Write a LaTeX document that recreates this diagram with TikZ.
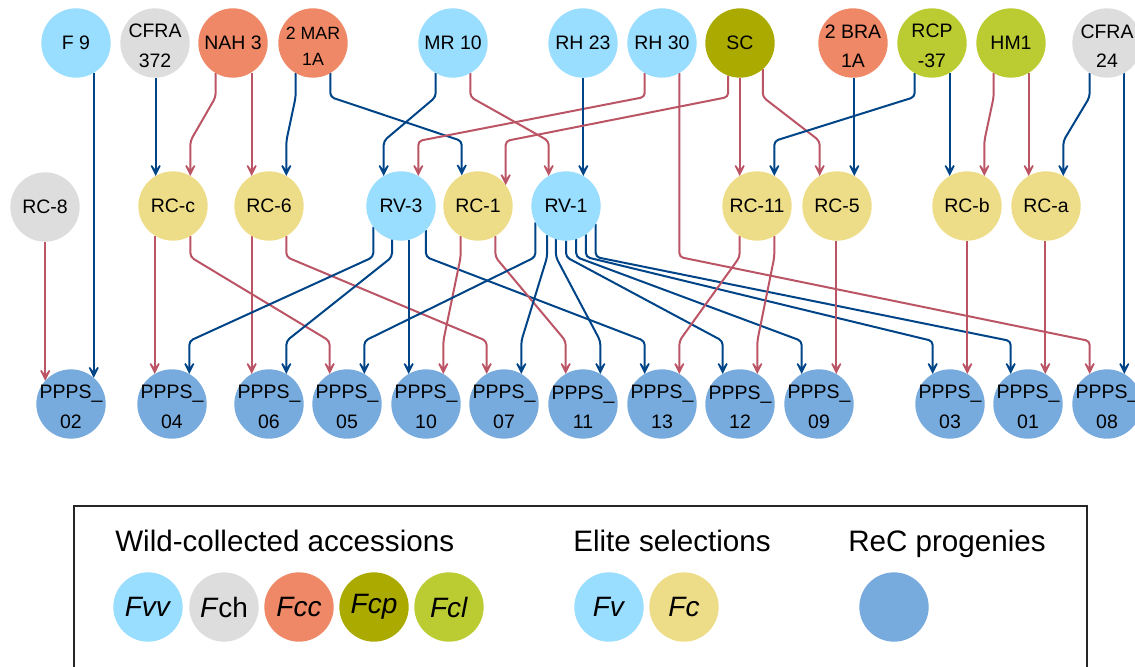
\documentclass[tikz,border=0pt]{standalone}
\usepackage{fontspec}
\setmainfont{Liberation Sans}
\usetikzlibrary{arrows.meta,backgrounds}
\definecolor{cFvv}{HTML}{99DDFF}
\definecolor{cFch}{HTML}{DDDDDD}
\definecolor{cFcc}{HTML}{EE8866}
\definecolor{cFcp}{HTML}{AAAA00}
\definecolor{cFcl}{HTML}{BBCC33}
\definecolor{cFc}{HTML}{EEDD88}
\definecolor{cReC}{HTML}{77AADD}
\definecolor{cBlue}{HTML}{004488}
\definecolor{cRed}{HTML}{BB5566}
\newcommand\tmlink[3]{\draw[#1] (#2) -- (#2 |- L1) -- (#3 |- L2) -- (#3);}
\newcommand\mblink[3]{\draw[#1] (#2) -- (#2 |- L3) -- (#3 |- L4) -- (#3);}
\newcommand\vlink[3]{\draw[#1] (#3 |- #2) -- (#3);}
\begin{document}
\begin{tikzpicture}[x=0.75pt,y=-0.75pt,
  acc/.style={circle, minimum size=52pt, inner sep=0pt, outer sep=0pt},
  lab/.style={inner sep=0pt, align=center, font=\fontsize{14.6}{22}\selectfont},
  lab2/.style={lab, yshift=-2.2pt},
  one/.style={label={[lab]center:{#1}}},
  two/.style={label={[lab2]center:{#1}}},
  ed/.style={line width=1.5pt, rounded corners=3pt, -{Stealth[length=12.5pt,width=12.5pt,inset=8pt]}},
  bl/.style={ed, draw=cBlue},
  rd/.style={ed, draw=cRed},
  leg/.style={circle, minimum size=52pt, inner sep=0pt, outer sep=0pt,
    font=\fontsize{21}{25}\selectfont},
  legtitle/.style={anchor=base west, inner sep=0pt, font=\fontsize{22.2}{26}\selectfont}]
\useasboundingbox (0,0) rectangle (1135,667);
\clip (0,0) rectangle (1135,667);
% level coordinates for bends
\coordinate (L1) at (0,97);
\coordinate (L2) at (0,141);
\coordinate (L3) at (0,257);
\coordinate (L4) at (0,341);
% top row
\node[acc, fill=cFvv, one={F 9}] (F9) at (76,43) {};
\node[acc, fill=cFch, two={CFRA\\372}] (CFRAa) at (155,43) {};
\node[acc, fill=cFcc, one={NAH 3}] (NAH3) at (233,43) {};
\node[acc, fill=cFcc, label={[lab2, font=\fontsize{13.3}{19.5}\selectfont]center:{2 MAR\\1A}}] (MAR) at (313,43) {};
\node[acc, fill=cFvv, one={MR 10}] (MR10) at (453,43) {};
\node[acc, fill=cFvv, one={RH 23}] (RH23) at (583,43) {};
\node[acc, fill=cFvv, one={RH 30}] (RH30) at (662,43) {};
\node[acc, fill=cFcp, one={SC}] (SC) at (740,43) {};
\node[acc, fill=cFcc, two={2 BRA\\1A}] (BRA) at (853,43) {};
\node[acc, fill=cFcl, two={RCP\\-37}] (RCP) at (932,43) {};
\node[acc, fill=cFcl, one={HM1}] (HM1) at (1011,43) {};
\node[acc, fill=cFch, two={CFRA\\24}] (CFRAb) at (1107,43) {};
% middle row
\node[acc, fill=cFch, one={RC-8}] (RC8) at (45,207) {};
\node[acc, fill=cFc, one={RC-c}] (RCc) at (173,206) {};
\node[acc, fill=cFc, one={RC-6}] (RC6) at (269,206) {};
\node[acc, fill=cFvv, one={RV-3}] (RV3) at (401,206) {};
\node[acc, fill=cFc, one={RC-1}] (RC1) at (478,206) {};
\node[acc, fill=cFvv, one={RV-1}] (RV1) at (566,206) {};
\node[acc, fill=cFc, one={RC-11}] (RC11) at (757,206) {};
\node[acc, fill=cFc, one={RC-5}] (RC5) at (837,206) {};
\node[acc, fill=cFc, one={RC-b}] (RCb) at (967,206) {};
\node[acc, fill=cFc, one={RC-a}] (RCa) at (1046,206) {};
% bottom row
\tikzset{pp/.style={acc, fill=cReC, two={PPPS\_\\#1}}}
\node[pp=02] (P02) at (71,404) {};
\node[pp=04] (P04) at (172,404) {};
\node[pp=06] (P06) at (269,404) {};
\node[pp=05] (P05) at (347,404) {};
\node[pp=10] (P10) at (426,404) {};
\node[pp=07] (P07) at (504,404) {};
\node[pp=11] (P11) at (583,404) {};
\node[pp=13] (P13) at (662,404) {};
\node[pp=12] (P12) at (740,404) {};
\node[pp=09] (P09) at (819,404) {};
\node[pp=03] (P03) at (950,404) {};
\node[pp=01] (P01) at (1028,404) {};
\node[pp=08] (P08) at (1107,404) {};
\begin{pgfonlayer}{background}
% top -> middle
\vlink{bl}{CFRAa.south}{RCc.120}
\tmlink{rd}{NAH3.-120}{RCc.60}
\vlink{rd}{NAH3.-60}{RC6.120}
\tmlink{bl}{MAR.-120}{RC6.60}
\tmlink{bl}{MAR.-60}{RC1.118}
\tmlink{bl}{MR10.-120}{RV3.120}
\tmlink{rd}{MR10.-60}{RV1.120}
\tmlink{rd}{RH30.-120}{RV3.60}
\vlink{bl}{RH23.south}{RV1.60}
\tmlink{rd}{SC.-110}{RC1.37}
\vlink{rd}{SC.south}{RC11.120}
\tmlink{rd}{SC.-49}{RC5.120}
\vlink{bl}{BRA.south}{RC5.60}
\tmlink{bl}{RCP.-120}{RC11.60}
\vlink{bl}{RCP.-60}{RCb.120}
\tmlink{rd}{HM1.-120}{RCb.60}
\vlink{rd}{HM1.-60}{RCa.120}
\tmlink{bl}{CFRAb.-120}{RCa.60}
\vlink{bl}{CFRAb.-60}{P08.60}
\vlink{bl}{F9.-60}{P02.49}
\vlink{rd}{RC8.south}{P02.138}
\mblink{rd}{RH30.-60}{P08.120}
% middle -> bottom
\vlink{rd}{RCc.-120}{P04.120}
\mblink{rd}{RCc.-60}{P05.120}
\vlink{rd}{RC6.-120}{P06.120}
\mblink{rd}{RC6.-60}{P07.120}
\mblink{bl}{RV3.-143}{P04.60}
\mblink{bl}{RV3.-105}{P06.60}
\vlink{bl}{RV3.-77}{P10.120}
\mblink{bl}{RV3.-44}{P13.120}
\mblink{rd}{RC1.-120}{P10.60}
\mblink{rd}{RC1.-60}{P11.120}
\mblink{bl}{RV1.-152}{P05.60}
\mblink{bl}{RV1.-123}{P07.60}
\mblink{bl}{RV1.-107}{P11.60}
\mblink{bl}{RV1.-90}{P12.120}
\mblink{bl}{RV1.-73}{P09.120}
\mblink{bl}{RV1.-55}{P03.120}
\mblink{bl}{RV1.-31}{P01.120}
\mblink{rd}{RC11.-120}{P13.60}
\mblink{rd}{RC11.-60}{P12.60}
\vlink{rd}{RC5.south}{P09.60}
\vlink{rd}{RCb.south}{P03.60}
\vlink{rd}{RCa.south}{P01.60}
\end{pgfonlayer}
% legend
\draw[line width=1pt, draw=black!85] (74,506) rectangle (1087,700);
\node[legtitle] (T1) at (115,551) {Wild-collected accessions};
\node[legtitle] (T2) at (573,551) {Elite selections};
\node[legtitle] (T3) at (848,551) {ReC progenies};
\node[leg, fill=cFvv] (G1) at (148,607) {\textit{Fvv}};
\node[leg, fill=cFch] (G2) at (224,607) {\textit{F}ch};
\node[leg, fill=cFcc] (G3) at (299,607) {\textit{Fcc}};
\node[leg, fill=cFcp] (G4) at (374,607) {\textit{Fcp}};
\node[leg, fill=cFcl] (G5) at (449,607) {\textit{Fcl}};
\node[leg, fill=cFvv] (G6) at (609,607) {\textit{Fv}};
\node[leg, fill=cFc] (G7) at (684,607) {\textit{Fc}};
\node[leg, fill=cReC] (G8) at (894,607) {};
\end{tikzpicture}
\end{document}
